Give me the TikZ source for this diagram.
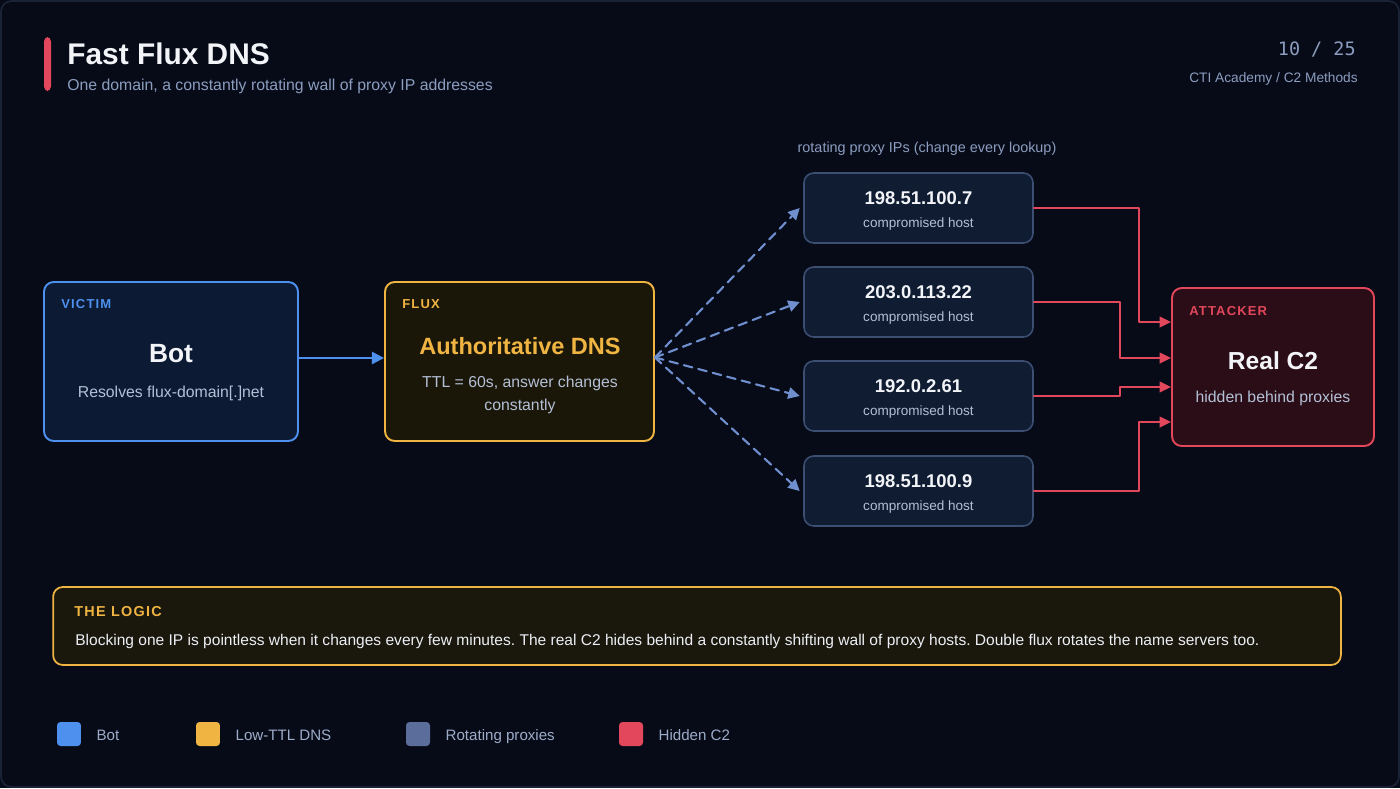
\documentclass[tikz,border=0pt]{standalone}
\usepackage{fontspec}
\setmainfont{Liberation Sans}
\newfontfamily\monofont{DejaVu Sans Mono}
\newfontfamily\tagfont[LetterSpace=9]{Liberation Sans}
\usetikzlibrary{arrows.meta,positioning}
\frenchspacing

\definecolor{bgpage}{HTML}{060B17}
\definecolor{frameline}{HTML}{1A2236}
\definecolor{txtwhite}{HTML}{F2F4F8}
\definecolor{txtsoft}{HTML}{B4C0D6}
\definecolor{txtmute}{HTML}{8C9DC0}
\definecolor{botblue}{HTML}{4D90EE}
\definecolor{botfill}{HTML}{0C1A33}
\definecolor{dnsgold}{HTML}{F0B443}
\definecolor{dnsfill}{HTML}{1B1708}
\definecolor{prxedge}{HTML}{3C4F72}
\definecolor{prxfill}{HTML}{0F1C32}
\definecolor{prxlegend}{HTML}{5B6E9B}
\definecolor{fanblue}{HTML}{6F8FCF}
\definecolor{c2red}{HTML}{E2475B}
\definecolor{c2fill}{HTML}{2A0D16}
\definecolor{logicfill}{HTML}{1A170C}

\begin{document}
\begin{tikzpicture}[x=0.02cm,y=-0.02cm,line join=round,line cap=round,
	every node/.style={inner sep=0pt,text=txtwhite},
	box/.style={draw,rounded corners=5.5pt,line width=1.1pt},
	proxy/.style={box,draw=prxedge,fill=prxfill,line width=0.9pt,minimum width=4.58cm,minimum height=1.4cm},
	tag/.style={anchor=base west,font=\tagfont\bfseries\fontsize{7.4}{9}\selectfont},
	head/.style={anchor=base,font=\bfseries\fontsize{14.5}{17}\selectfont},
	desc/.style={anchor=base,text=txtsoft,font=\fontsize{9}{11}\selectfont},
	iptxt/.style={anchor=base,font=\bfseries\fontsize{10.5}{12}\selectfont},
	hosttxt/.style={anchor=base,text=txtsoft,font=\fontsize{7.7}{9}\selectfont},
	swatch/.style={rounded corners=2pt,minimum size=0.48cm},
	legtxt/.style={anchor=west,text height=0.72em,text depth=0pt,text=txtmute!85!white,font=\fontsize{8.6}{10}\selectfont},
	fanline/.style={dashed,dash pattern=on 5pt off 3.5pt,line width=1.2pt,draw=fanblue,-{Triangle[length=6.5pt,width=6.5pt]}},
	c2line/.style={line width=1.1pt,draw=c2red,-{Triangle[length=6.5pt,width=6pt]}}]
	% page
	\useasboundingbox (0,0) rectangle (1400,788);
	\fill[bgpage] (0,0) rectangle (1400,788);
	\draw[frameline,line width=1pt,rounded corners=6pt] (1,1) rectangle (1399,787);
	% header
	\fill[c2red,rounded corners=2.5pt] (44,37) rectangle (51,91);
	\node[anchor=base west,font=\bfseries\fontsize{17}{20}\selectfont] (title) at (67,64) {Fast Flux DNS};
	\node[anchor=base west,text=txtmute,font=\fontsize{9}{11}\selectfont] (subtitle) at (67,90) {One domain, a constantly rotating wall of proxy IP addresses};
	\node[anchor=base east,text=txtmute,font=\monofont\fontsize{10.5}{12}\selectfont] (pageno) at (1356,55) {10 / 25};
	\node[anchor=base east,text=txtmute,font=\fontsize{7.8}{9}\selectfont] (course) at (1358,82) {CTI Academy / C2 Methods};

	% victim
	\node[box,draw=botblue,fill=botfill,minimum width=5.08cm,minimum height=3.18cm] (bot) at (171,361.5) {};
	\node[tag,text=botblue] (bottag) at (61,308.5) {VICTIM};
	\node[head,font=\bfseries\fontsize{15}{17}\selectfont] (bothead) at (171,362) {Bot};
	\node[desc] (botdesc) at (171,397) {Resolves flux-domain[.]net};

	% flux dns
	\node[box,draw=dnsgold,fill=dnsfill,minimum width=5.38cm,minimum height=3.18cm] (dns) at (519.5,361.5) {};
	\node[tag,text=dnsgold] (dnstag) at (402,308.5) {FLUX};
	\node[head,text=dnsgold,font=\bfseries\fontsize{13.4}{16}\selectfont] (dnshead) at (520,354.5) {Authoritative DNS};
	\node[desc] (dnsdesc1) at (520,387) {TTL = 60s, answer changes};
	\node[desc] (dnsdesc2) at (520,410) {constantly};

	\draw[line width=1.3pt,botblue,-{Triangle[length=7pt,width=7pt]}] ([yshift=2pt]bot.east) -- ([yshift=2pt]dns.west);

	% proxies
	\node[anchor=base,text=txtmute,font=\fontsize{8.2}{10}\selectfont] (fanlabel) at (927,152) {rotating proxy IPs (change every lookup)};
	\foreach \i/\y/\ip in {1/208/198.51.100.7,2/302/203.0.113.22,3/396/192.0.2.61,4/491/198.51.100.9}{
		\node[proxy] (p\i) at (918.5,\y) {};
		\node[iptxt] (ip\i) at (918.5,\y-4) {\ip};
		\node[hosttxt] (host\i) at (918.5,\y+19.5) {compromised host};
	}
	\coordinate (fan) at ([yshift=2.3pt]dns.east);
	\foreach \i in {1,...,4}
		\draw[fanline] (fan) -- ([xshift=-2pt]p\i.west);

	% real c2
	\node[box,draw=c2red,fill=c2fill,minimum width=4.04cm,minimum height=3.16cm] (c2) at (1273,367) {};
	\node[tag,text=c2red] (c2tag) at (1189,315.5) {ATTACKER};
	\node[head,font=\bfseries\fontsize{14}{17}\selectfont] (c2head) at (1273,369.5) {Real C2};
	\node[desc] (c2desc) at (1273,402) {hidden behind proxies};
	\foreach \i/\dx/\dy in {1/105/-45,2/86/-9,3/86/20,4/105/55}{
		\path (c2.west) ++(0,\dy) coordinate (in\i);
		\draw[c2line] (p\i.east) -- ++(\dx,0) |- (in\i);
	}

	% logic box
	\node[box,draw=dnsgold,fill=logicfill,line width=1pt,minimum width=25.76cm,minimum height=1.56cm] (logic) at (697,626) {};
	\node[tag,text=dnsgold,font=\tagfont\bfseries\fontsize{8.2}{10}\selectfont] (logictag) at (74,616) {THE LOGIC};
	\node[anchor=base west,text=txtwhite!90!txtsoft,font=\fontsize{8.85}{11}\selectfont] (logictxt) at (75,645) {Blocking one IP is pointless when it changes every few minutes. The real C2 hides behind a constantly shifting wall of proxy hosts. Double flux rotates the name servers too.};

	% legend
	\foreach \x/\col/\lab/\n in {57/botblue/Bot/a,196/dnsgold/Low-TTL DNS/b,406/prxlegend/Rotating proxies/c,619/c2red/Hidden C2/d}{
		\node[swatch,fill=\col] (sw\n) at (\x+12,734) {};
		\node[legtxt,right=8.5pt of sw\n] (leg\n) {\lab};
	}
\end{tikzpicture}
\end{document}
